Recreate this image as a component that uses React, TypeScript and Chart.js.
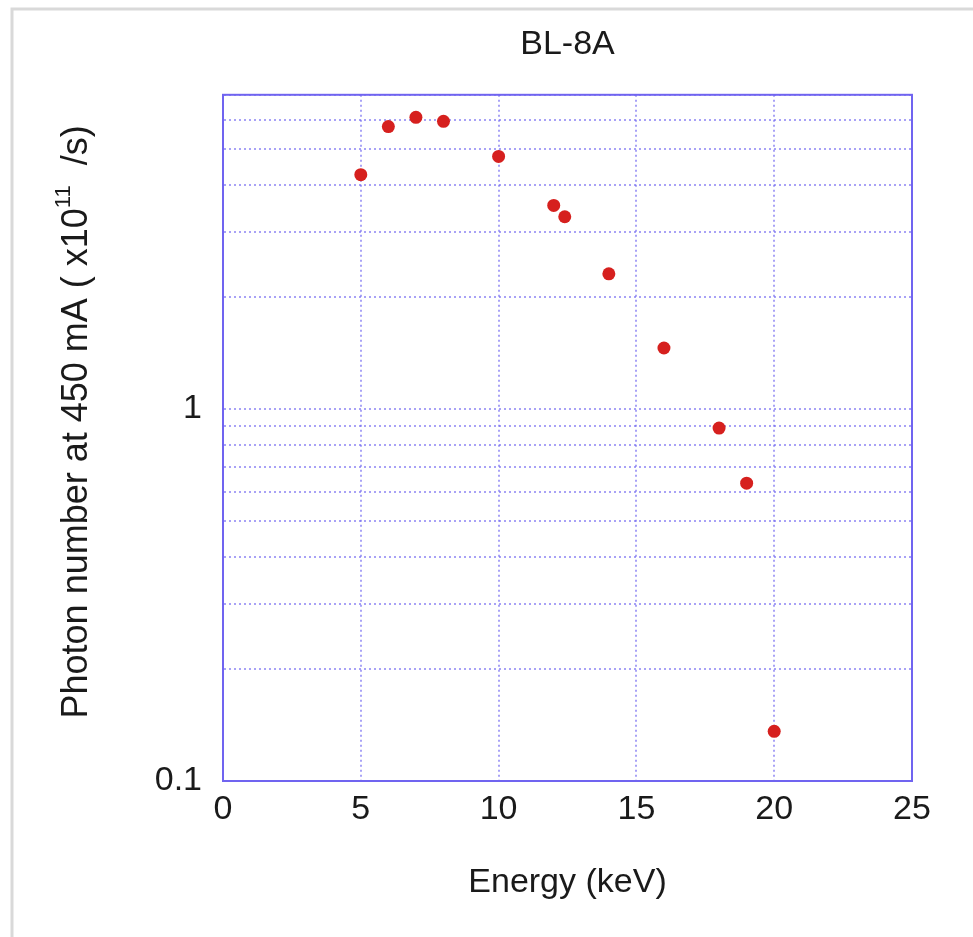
import React, { useEffect, useRef } from 'react';
import { Chart, registerables } from 'chart.js';

Chart.register(...registerables);

// ---- data ----
const energies = [5, 6, 7, 8, 10, 12, 12.4, 14, 16, 18, 19, 20];
const photons = [4.27, 5.75, 6.09, 5.94, 4.78, 3.53, 3.29, 2.31, 1.46, 0.889, 0.632, 0.136];
const xTickValues = [0, 5, 10, 15, 20, 25];
const yGridValues = [0.1, 0.2, 0.3, 0.4, 0.5, 0.6, 0.7, 0.8, 0.9, 1, 2, 3, 4, 5, 6, 7];
const yLabelValues = [0.1, 1];
const chartTitle = 'BL-8A';
const xTitle = 'Energy (keV)';
const yTitleParts = ['Photon number at 450 mA ( x10', '11', '  /s)'];

const FONT = '"Liberation Sans", Arial, Helvetica, sans-serif';
const GRID = 'rgba(110, 100, 240, 0.6)';
const FRAME = 'rgb(112, 100, 240)';
const TEXT = '#1a1a1a';

const framePlugin = {
  id: 'pageFrame',
  beforeDraw(chart: any) {
    const { ctx, width, height } = chart;
    ctx.save();
    ctx.fillStyle = '#ffffff';
    ctx.fillRect(0, 0, width, height);
    ctx.strokeStyle = '#d9d9d9';
    ctx.lineWidth = 3;
    ctx.beginPath();
    ctx.moveTo(12, height + 5);
    ctx.lineTo(12, 9);
    ctx.lineTo(width + 5, 9);
    ctx.stroke();
    ctx.restore();
  },
  beforeDatasetsDraw(chart: any) {
    const { ctx, chartArea } = chart;
    ctx.save();
    ctx.setLineDash([]);
    ctx.strokeStyle = FRAME;
    ctx.lineWidth = 2;
    ctx.strokeRect(chartArea.left, chartArea.top, chartArea.right - chartArea.left, chartArea.bottom - chartArea.top);
    ctx.restore();
  },
  afterDraw(chart: any) {
    const { ctx, chartArea } = chart;
    ctx.save();
    const cx = chartArea.left - 146;
    const cy = (chartArea.top + chartArea.bottom) / 2 - 16;
    ctx.translate(cx, cy);
    ctx.rotate(-Math.PI / 2);
    ctx.fillStyle = TEXT;
    ctx.textBaseline = 'middle';
    ctx.textAlign = 'left';
    const mainFont = `36px ${FONT}`;
    const supFont = `22px ${FONT}`;
    ctx.font = mainFont;
    const w0 = ctx.measureText(yTitleParts[0]).width;
    const w2 = ctx.measureText(yTitleParts[2]).width;
    ctx.font = supFont;
    const w1 = ctx.measureText(yTitleParts[1]).width;
    const total = w0 + w1 + w2;
    let x = -total / 2;
    ctx.font = mainFont;
    ctx.fillText(yTitleParts[0], x, 0);
    x += w0;
    ctx.font = supFont;
    ctx.fillText(yTitleParts[1], x, -13);
    x += w1;
    ctx.font = mainFont;
    ctx.fillText(yTitleParts[2], x, 0);
    ctx.restore();
  },
};

export default function App() {
  const canvasRef = useRef<HTMLCanvasElement | null>(null);

  useEffect(() => {
    if (!canvasRef.current) return;
    const chart = new Chart(canvasRef.current, {
      type: 'scatter',
      data: {
        datasets: [
          {
            label: 'BL-8A',
            data: energies.map((e, i) => ({ x: e, y: photons[i] })),
            backgroundColor: 'rgb(214, 32, 30)',
            borderColor: 'rgb(214, 32, 30)',
            pointRadius: 6.5,
            pointHoverRadius: 6.5,
            borderWidth: 0,
          },
        ],
      },
      options: {
        animation: false,
        responsive: false,
        maintainAspectRatio: false,
        layout: { padding: { left: 0, right: 61, top: 0, bottom: 0 } },
        plugins: {
          legend: { display: false },
          tooltip: { enabled: false },
          title: {
            display: true,
            text: chartTitle,
            fullSize: false,
            color: TEXT,
            font: { family: FONT, size: 34, weight: 'normal' },
            padding: { top: 24, bottom: 30 },
          },
        },
        scales: {
          x: {
            type: 'linear',
            min: 0,
            max: 25,
            afterBuildTicks: (scale: any) => {
              scale.ticks = xTickValues.map((v) => ({ value: v }));
            },
            afterFit: (scale: any) => {
              scale.height = 156;
            },
            ticks: {
              autoSkip: false,
              maxRotation: 0,
              padding: 8,
              color: TEXT,
              font: { family: FONT, size: 34 },
              callback: (v: any) => String(v),
            },
            grid: {
              color: GRID,
              lineWidth: 2,
              drawTicks: false,
            },
            border: { display: true, color: FRAME, width: 2, dash: [2, 3] },
            title: {
              display: true,
              text: xTitle,
              color: TEXT,
              font: { family: FONT, size: 34 },
              padding: { top: 0, bottom: 34 },
            },
          },
          y: {
            type: 'logarithmic',
            min: 0.1,
            max: 7,
            afterBuildTicks: (scale: any) => {
              scale.ticks = yGridValues.map((v) => ({ value: v }));
            },
            afterFit: (scale: any) => {
              scale.width = 223;
            },
            ticks: {
              autoSkip: false,
              padding: 21,
              color: TEXT,
              font: { family: FONT, size: 34 },
              callback: (v: any) => (yLabelValues.some((l) => Math.abs(l - Number(v)) < 1e-9) ? String(Number(v)) : ''),
            },
            grid: {
              color: GRID,
              lineWidth: 2,
              drawTicks: false,
            },
            border: { display: true, color: FRAME, width: 2, dash: [2, 3] },
          },
        },
      },
      plugins: [framePlugin],
    } as any);

    return () => chart.destroy();
  }, []);

  return (
    <div style={{ position: 'absolute', left: 0, top: 0, width: 973, height: 937, background: '#fff' }}>
      <canvas ref={canvasRef} width={973} height={937} style={{ display: 'block', width: 973, height: 937 }} />
    </div>
  );
}
